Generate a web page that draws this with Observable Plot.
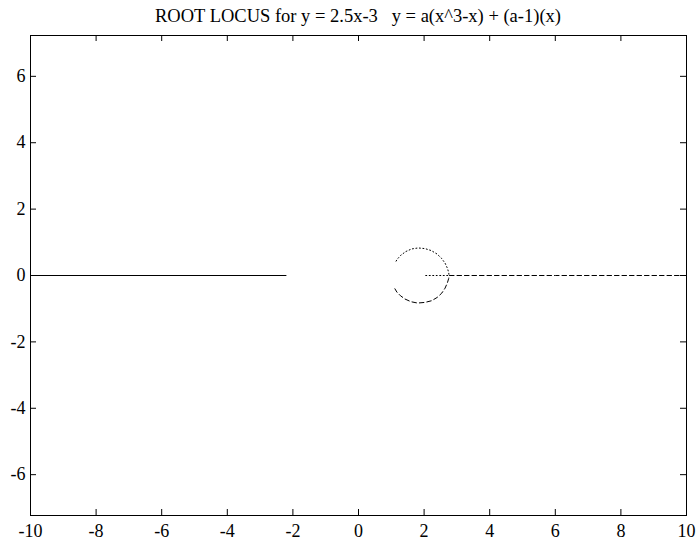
<!DOCTYPE html>
<html>
<head>
<meta charset="utf-8">
<script src="https://cdn.jsdelivr.net/npm/d3@7"></script>
<script src="https://cdn.jsdelivr.net/npm/@observablehq/plot@0.6"></script>
<style>
  html, body { margin: 0; padding: 0; background: #fff; }
  #title { width: 700px; height: 30px; box-sizing: border-box; padding: 5px 14px 0 30px;
    text-align: center; font-family: "Liberation Serif", "Times New Roman", serif; font-size: 18.5px;
    white-space: pre; color: #000; line-height: 22px; overflow: hidden; }
</style>
</head>
<body>
<div id="title">ROOT LOCUS for y = 2.5x-3   y = a(x^3-x) + (a-1)(x)</div>
<div id="chart"></div>
<script>
// Branch 1 (solid): real axis, going left
const branch1X = [-10, -2.21];
const branch1Y = [0, 0];
// Branch 2 (dotted): real axis segment then upper arc
const branch2X = [2.05, 2.4, 2.76, 2.75, 2.71, 2.64, 2.53, 2.39, 2.22, 2.03, 1.82, 1.62, 1.44, 1.29, 1.18, 1.11];
const branch2Y = [0, 0, 0, 0.09, 0.22, 0.37, 0.52, 0.65, 0.75, 0.81, 0.83, 0.80, 0.72, 0.61, 0.49, 0.37];
// Branch 3 (dashed): real axis from right then lower arc
const branch3X = [10, 6, 2.76, 2.75, 2.71, 2.64, 2.54, 2.40, 2.23, 2.03, 1.80, 1.60, 1.42, 1.28, 1.17, 1.11];
const branch3Y = [0, 0, 0, -0.09, -0.22, -0.38, -0.53, -0.66, -0.76, -0.81, -0.83, -0.79, -0.71, -0.61, -0.50, -0.40];

const xTicks = [-10, -8, -6, -4, -2, 0, 2, 4, 6, 8, 10];
const yTicks = [-6, -4, -2, 0, 2, 4, 6];

const toPts = (xs, ys) => xs.map((x, i) => ({x, y: ys[i]}));

const W = 700, H = 514;
const mL = 30, mR = 14, mT = 5, mB = 29;
const fw = W - mL - mR, fh = H - mT - mB;
const tl = 6;
const font = "Liberation Serif, Times New Roman, serif";

const chart = Plot.plot({
  width: W, height: H,
  marginLeft: mL, marginRight: mR, marginTop: mT, marginBottom: mB,
  style: {fontFamily: font, fontSize: "18px", color: "#000", background: "#fff"},
  x: {domain: [-10, 10], ticks: xTicks, label: null},
  y: {domain: [-7.23, 7.23], ticks: yTicks, label: null},
  marks: [
    Plot.axisX(xTicks, {anchor: "bottom", tickSize: 0, tickPadding: 9, fontSize: 18, fontFamily: font, label: null, tickFormat: d => String(d)}),
    Plot.axisY(yTicks, {anchor: "left", tickSize: 0, tickPadding: 5, fontSize: 18, fontFamily: font, label: null, tickFormat: d => String(d)}),
    Plot.tickX(xTicks.slice(1, -1), {x: d => d, insetTop: fh - tl, stroke: "#000"}),
    Plot.tickX(xTicks.slice(1, -1), {x: d => d, insetBottom: fh - tl, stroke: "#000"}),
    Plot.tickY(yTicks, {y: d => d, insetRight: fw - tl, stroke: "#000"}),
    Plot.tickY(yTicks, {y: d => d, insetLeft: fw - tl, stroke: "#000"}),
    Plot.line(toPts(branch1X, branch1Y), {x: "x", y: "y", stroke: "#000", strokeWidth: 1}),
    Plot.line(toPts(branch2X, branch2Y), {x: "x", y: "y", stroke: "#000", strokeWidth: 1, strokeDasharray: "1,2.5"}),
    Plot.line(toPts(branch3X, branch3Y), {x: "x", y: "y", stroke: "#000", strokeWidth: 1, strokeDasharray: "4.5,3"}),
    Plot.frame({stroke: "#000"})
  ]
});
document.getElementById("chart").appendChild(chart);
</script>
</body>
</html>
